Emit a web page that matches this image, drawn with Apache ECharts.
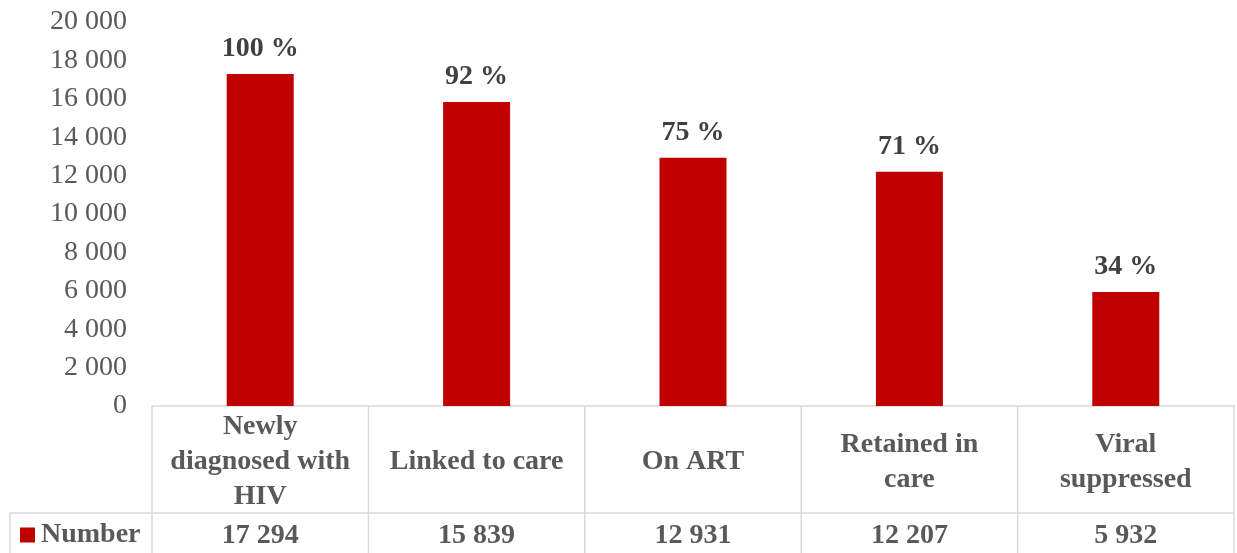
<!DOCTYPE html>
<html><head><meta charset="utf-8">
<script src="https://cdn.jsdelivr.net/npm/echarts@6/dist/echarts.min.js"></script>
<style>html,body{margin:0;padding:0;background:#fff}#c{width:1237px;height:553px}</style>
</head><body><div id="c"></div>
<script>
var categories = ["Newly\ndiagnosed with\nHIV", "Linked to care", "On ART", "Retained in\ncare", "Viral\nsuppressed"];
var values = [17294, 15839, 12931, 12207, 5932];
var pctLabels = ["100 %", "92 %", "75 %", "71 %", "34 %"];
var seriesName = "Number";
var yMin = 0, yMax = 20000, yStep = 2000;

function fmt(v){ return String(v).replace(/\B(?=(\d{3})+(?!\d))/g, " "); }
var FONT = "'Liberation Serif','Times New Roman',serif";
var GRAY = "#595959", LINE = "#d9d9d9", RED = "#C00000";

var chart = echarts.init(document.getElementById('c'), null, {renderer:'canvas'});
var option = {
  animation:false,
  textStyle:{fontFamily:FONT},
  grid:{left:152, right:3, top:22, bottom:147, containLabel:false},
  legend:{
    left:15, top:516, itemWidth:15, itemHeight:15, itemGap:6, icon:'rect',
    data:[seriesName],
    textStyle:{fontFamily:FONT, fontSize:28, fontWeight:'bold', color:GRAY, padding:[6,0,0,1]}
  },
  xAxis:[{
    type:'category', data:categories,
    axisLine:{show:true, lineStyle:{color:LINE, width:1.5}},
    axisTick:{show:false},
    axisLabel:{interval:0, margin:56, verticalAlign:'middle', fontFamily:FONT, fontSize:28, fontWeight:'bold', color:GRAY, lineHeight:35}
  },{
    type:'category', data:values.map(fmt), position:'bottom',
    axisLine:{show:false}, axisTick:{show:false},
    axisLabel:{interval:0, margin:130, verticalAlign:'middle', fontFamily:FONT, fontSize:28, fontWeight:'bold', color:GRAY}
  }],
  yAxis:{
    type:'value', min:yMin, max:yMax, interval:yStep,
    axisLine:{show:false}, axisTick:{show:false}, splitLine:{show:false},
    axisLabel:{margin:25, fontFamily:FONT, fontSize:28, color:GRAY, formatter:function(v){return fmt(v);}}
  },
  series:[{
    name:seriesName, type:'bar', data:values, barWidth:67, itemStyle:{color:RED},
    label:{show:true, position:'top', distance:11, fontFamily:FONT, fontSize:28, fontWeight:'bold', color:'#404040',
      formatter:function(p){return pctLabels[p.dataIndex];}}
  }]
};
chart.setOption(option);

// table grid lines derived from axis layout
var p0 = chart.convertToPixel({xAxisIndex:0}, 0);
var p1 = chart.convertToPixel({xAxisIndex:0}, 1);
var band = p1 - p0;
var yZero = chart.convertToPixel({yAxisIndex:0}, 0);
var left = p0 - band/2, right = left + band*categories.length;
var rowY = yZero + 107, bottomY = 560;
var lines = [];
var ls = {stroke:LINE, lineWidth:1.5};
for (var i=0;i<=categories.length;i++){
  var x = left + band*i;
  lines.push({type:'line', shape:{x1:x, y1:yZero, x2:x, y2:bottomY}, style:ls, silent:true});
}
lines.push({type:'line', shape:{x1:10, y1:rowY, x2:right, y2:rowY}, style:ls, silent:true});
lines.push({type:'line', shape:{x1:10, y1:rowY, x2:10, y2:bottomY}, style:ls, silent:true});
chart.setOption({graphic:lines});
</script></body></html>
